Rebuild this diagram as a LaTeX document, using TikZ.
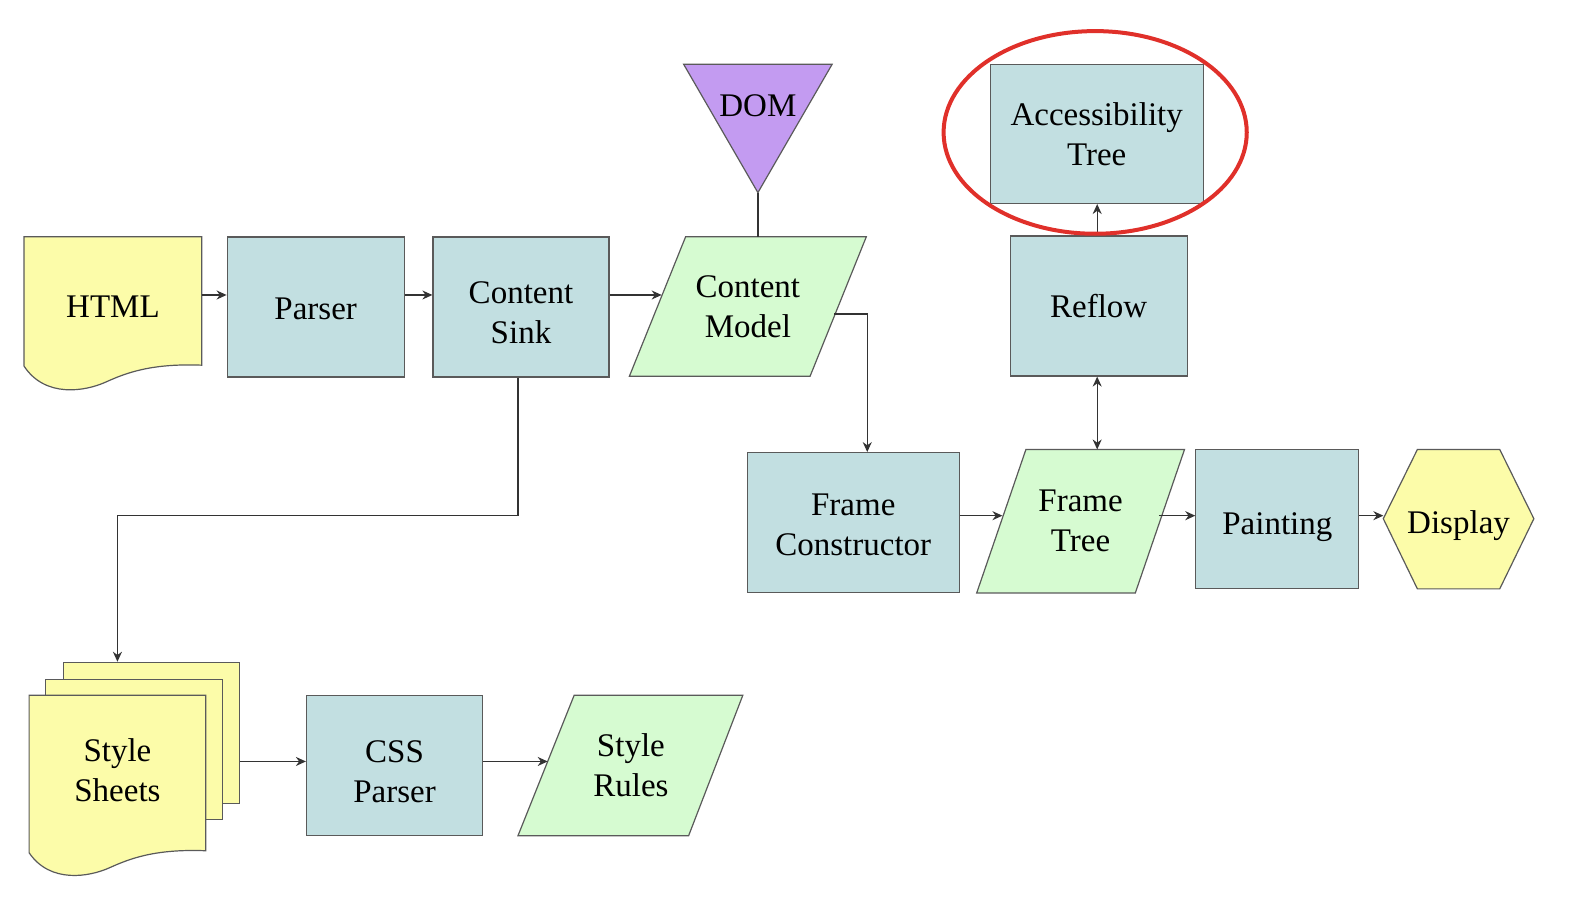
\documentclass[tikz,border=0pt]{standalone}
\usepackage{fontspec}
\setmainfont{Liberation Serif}
\usetikzlibrary{arrows.meta,calc}
\definecolor{boxblue}{HTML}{C2DFE1}
\definecolor{paragreen}{HTML}{D6FBD1}
\definecolor{docyellow}{HTML}{FCFCA9}
\definecolor{dompurple}{HTML}{C39BF1}
\definecolor{bordergray}{HTML}{5A5A5A}
\definecolor{ringred}{HTML}{E0302A}
\definecolor{linegray}{HTML}{333333}
\newcommand{\lblfont}{\fontsize{33}{40}\selectfont}
% lowered text that keeps its box size: #1 = drop in pt
\newcommand{\lowtext}[2]{\raisebox{-#1pt}[\height][\depth]{\begin{tabular}{@{}c@{}}#2\end{tabular}}}
\begin{document}
\begin{tikzpicture}[x=1.0038pt,y=-1.0032pt,
  shapeline/.style={draw=bordergray,line width=1.2pt},
  box/.style={shapeline,fill=boxblue,inner sep=0pt,align=center,font=\lblfont},
  sheet/.style={shapeline,fill=docyellow,inner sep=0pt},
  txt/.style={inner sep=0pt,align=center,font=\lblfont},
  para/.style={shapeline,fill=paragreen},
  docshape/.style={shapeline,fill=docyellow},
  hexshape/.style={shapeline,fill=docyellow},
  domshape/.style={shapeline,fill=dompurple},
  conn/.style={draw=linegray,line width=1.4pt},
  arr/.style={conn,-{Stealth[length=10pt,width=9pt]}},
  arrboth/.style={conn,{Stealth[length=10pt,width=9pt]}-{Stealth[length=10pt,width=9pt]}},
  ring/.style={draw=ringred,line width=4pt}]
\useasboundingbox (0,0) rectangle (1568,913);

% HTML document
\path[docshape] (24,236) -- (201,236) -- (201,364)
  .. controls (150,362) and (125,372) .. (105,381)
  .. controls (85,390) and (45,397) .. (24,365) -- cycle;
\node[txt,minimum width=177pt,minimum height=140pt] (ht) at (112.5,306) {\lowtext{3}{HTML}};

% Boxes
\node[box,minimum width=177pt,minimum height=140pt] (ps) at (314.5,306) {\lowtext{5}{Parser}};
\node[box,minimum width=176pt,minimum height=140pt] (cs) at (519,306) {\lowtext{9}{Content\\Sink}};
\node[box,minimum width=213pt,minimum height=139pt] (acc) at (1092.5,133.5) {\lowtext{4}{Accessibility\\Tree}};
\node[box,minimum width=177pt,minimum height=140pt] (rf) at (1094.5,305) {\lowtext{4}{Reflow}};
\node[box,minimum width=212pt,minimum height=140pt] (fc) at (850,521) {\lowtext{5}{Frame\\Constructor}};
\node[box,minimum width=163pt,minimum height=139pt] (pt) at (1272.5,517.5) {\lowtext{7}{Painting}};
\node[box,minimum width=176pt,minimum height=140pt] (css) at (393,763) {\lowtext{9}{CSS\\Parser}};

% Content Model
\path[para] (683,236) -- (863,236) -- (807,375) -- (627,375) -- cycle;
\node[txt,minimum width=172pt,minimum height=139pt] (cm) at (745,305.5) {Content\\Model};

% DOM
\path[domshape] (681,64) -- (829,64) -- (755,192) -- cycle;
\node[txt] (dom) at (755,105) {DOM};
\coordinate (domtip) at (755,192);

% Frame Tree
\path[para] (1022,448) -- (1180,448) -- (1131,591) -- (973,591) -- cycle;
\node[txt,minimum width=156pt,minimum height=143pt] (ft) at (1076.5,519.5) {Frame\\Tree};

% Display
\path[hexshape] (1378,517) -- (1412,448) -- (1494,448) -- (1528,517) -- (1494,587) -- (1412,587) -- cycle;
\node[txt,minimum width=150pt,minimum height=139pt] (dp) at (1453,517.5) {\lowtext{6}{Display}};

% Style Sheets stack
\node[sheet,minimum width=176pt,minimum height=141pt] (ssb) at (151,730.5) {};
\node[sheet,minimum width=177pt,minimum height=140pt] (ssm) at (133.5,747) {};
\path[docshape] (29,693) -- (205,693) -- (205,848)
  .. controls (154,846) and (129,856) .. (109,865)
  .. controls (89,874) and (50,881) .. (29,850) -- cycle;
\node[txt,minimum width=176pt,minimum height=140pt] (ss) at (117,763) {\lowtext{8}{Style\\Sheets}};

% Style Rules
\path[para] (572,693) -- (740,693) -- (686,833) -- (516,833) -- cycle;
\node[txt,minimum width=166pt,minimum height=140pt] (sr) at (628.5,763) {Style\\Rules};

% Connectors
\draw[arr] ([yshift=12pt]ps.west -| ht.east) -- ([yshift=12pt]ps.west);
\draw[arr] ([yshift=12pt]ps.east) -- ([yshift=12pt]cs.west);
\draw[arr] ([yshift=12pt]cs.east) -- ([yshift=12pt]cs.east -| cm.west);
\draw[conn] (domtip) -- (domtip |- cm.north);
\draw[arr] ([yshift=-7.5pt]cm.east) -| ([xshift=14pt]fc.north);
\coordinate (bend) at (117,514);
\draw[arr] ([xshift=-3pt]cs.south) |- (bend) -- (bend |- ssb.north);
\draw[arr] ([yshift=4pt]ss.east -| ssb.east) -- ([yshift=4pt]css.west);
\draw[arr] ([yshift=4pt]css.east) -- ([yshift=4pt]sr.west);
\draw[arr] ([yshift=7pt]fc.east) -- ([yshift=7pt]fc.east -| ft.west);
\draw[arr] ([yshift=5.5pt]ft.east) -- ([yshift=5.5pt]ft.east -| pt.west);
\draw[arr] ([yshift=3.5pt]pt.east) -- ([yshift=3.5pt]pt.east -| dp.west);
\draw[arrboth] ([xshift=-1.5pt]rf.south) -- ([xshift=-1.5pt]rf.south |- ft.north);
\draw[arr] ([xshift=-1.5pt]rf.north) -- ([xshift=-1.5pt]rf.north |- acc.south);

% Highlight ring
\draw[ring] (1091,132) ellipse [x radius=151, y radius=101];
\end{tikzpicture}
\end{document}
